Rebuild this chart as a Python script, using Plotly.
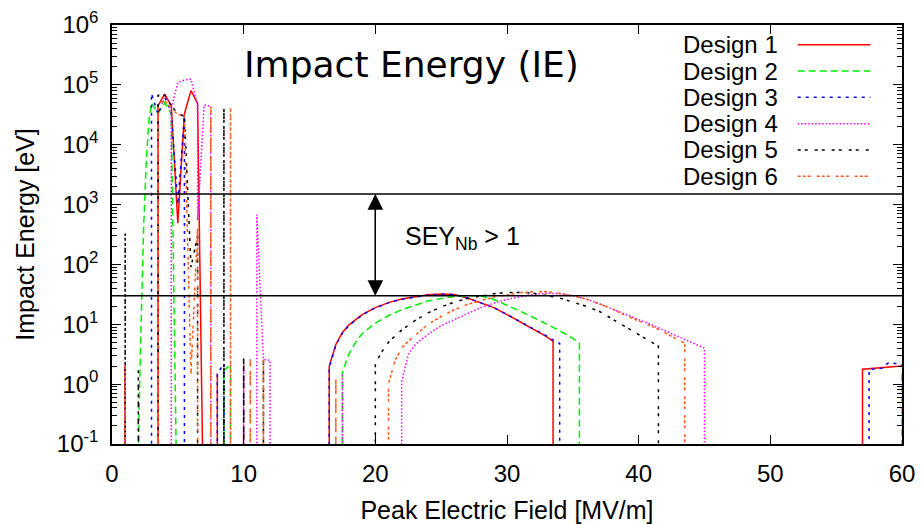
import math
import plotly.graph_objects as go

F = 1e-3  # no multipacting: impact energy below the plotted range

# ---- Design 1 ----
d1_field = [1.0, 1.0, 1.0, 3.5, 3.5, 4.0, 4.5, 5.0, 5.5, 6.0, 6.5, 7.0,
            8.0, 8.0, 8.0,
            16.5, 16.5, 17.0, 17.5, 18.0, 19.0, 20.0, 21.0, 22.0, 23.0, 24.0, 25.0, 26.0,
            27.0, 28.0, 29.0, 30.0, 31.0, 32.0, 33.0, 33.5, 33.5,
            57.0, 57.0, 60.0]
d1_ie = [F, 2.1, F, F, 4.5e4, 7.0e4, 4.5e4, 490, 3.3e4, 8.0e4, 4.9e4, F,
         F, 1.5, F,
         F, 2.0, 4.6, 7.3, 9.8, 14.5, 19.0, 23.0, 26.5, 29.0, 31.0, 32.0, 31.5,
         27.5, 23.0, 19.0, 14.5, 11.0, 8.3, 6.2, 5.2, F,
         F, 1.78, 2.0]

# ---- Design 2 ----
d2_field = [2.0, 2.05, 2.15, 2.25, 2.4, 2.6, 2.8, 3.0, 3.5, 4.0, 4.5, 5.0,
            8.5, 8.5, 9.0, 9.0,
            17.5, 17.5, 18.0, 18.5, 19.0, 20.0, 21.0, 22.0, 23.0, 24.0, 25.0, 26.0, 27.0, 28.0,
            29.0, 30.0, 31.0, 32.0, 33.0, 34.0, 35.0, 35.5, 35.5,
            60.0, 60.0]
d2_ie = [F, 0.3, 3.0, 30.0, 400, 5000, 2.5e4, 5.0e4, 3.3e4, 5.0e4, 3.3e4, F,
         F, 1.7, 2.1, F,
         F, 1.6, 3.2, 5.0, 7.0, 10.5, 14.0, 17.5, 21.0, 24.5, 27.0, 29.0, 30.0, 30.0,
         26.0, 21.0, 16.5, 13.0, 10.0, 7.8, 5.8, 4.8, F,
         F, 1.7]

# ---- Design 3 ----
d3_field = [3.0, 3.0, 3.5, 4.0, 4.5, 5.0, 5.5, 5.5,
            8.0, 8.0, 8.5, 8.5,
            16.5, 16.5, 17.0, 17.5, 18.0, 19.0, 20.0, 21.0, 22.0, 23.0, 24.0, 25.0, 26.0,
            27.0, 28.0, 29.0, 30.0, 31.0, 32.0, 33.0, 33.5, 34.0, 34.0,
            57.5, 57.5, 58.5, 59.0, 59.5, 60.0]
d3_ie = [F, 7.2e4, 3.2e4, 6.3e4, 3.5e4, 1000, 3.0e4, F,
         F, 1.5, 2.2, F,
         F, 1.9, 4.5, 7.1, 9.6, 14.3, 18.8, 22.8, 26.3, 28.8, 30.8, 31.8, 31.3,
         27.5, 23.0, 19.0, 14.6, 11.2, 8.5, 6.4, 5.5, 4.8, F,
         F, 1.75, 1.85, 2.3, 2.2, 2.1]

# ---- Design 4 ----
d4_field = [1.0, 1.0, 1.0, 4.5, 4.5, 5.0, 5.5, 6.0, 6.5, 6.5, 7.0, 7.5, 7.5,
            10.0, 10.0, 10.0, 11.0, 11.0, 11.5, 12.0, 12.0,
            17.5, 17.5, 17.5,
            22.0, 22.0, 22.5, 23.0, 23.5, 24.0, 25.0, 26.0, 27.0, 28.0, 29.0, 30.0, 31.0, 32.0,
            33.0, 34.0, 35.0, 36.0, 37.0, 38.0, 39.0, 40.0, 41.0, 42.0, 43.0, 44.0, 45.0, 45.0]
d4_ie = [F, 2.1, F, F, 4.0e4, 1.1e5, 1.2e5, 1.25e5, 4.5e4, 550, 4.6e4, 4.4e4, F,
         F, 2.0, F, F, 680, 2.6, 2.5, F,
         F, 1.5, F,
         F, 1.1, 3.1, 4.5, 5.6, 6.8, 9.5, 12.0, 15.5, 19.0, 22.5, 26.0, 29.0, 31.5,
         33.0, 32.5, 30.0, 26.5, 22.0, 18.0, 14.5, 12.0, 9.8, 7.8, 6.2, 5.0, 4.0, F]

# ---- Design 5 ----
d5_field = [1.0, 1.0, 1.0, 2.0, 2.0, 2.0, 3.5, 3.5, 4.0, 4.5, 5.0, 5.5, 6.0, 6.5, 6.5,
            8.5, 8.5, 8.5, 10.0, 10.0, 10.0, 11.5, 11.5, 11.5,
            20.0, 20.0, 20.5, 21.0, 21.5, 22.0, 23.0, 24.0, 25.0, 26.0, 27.0, 28.0, 29.0, 30.0,
            31.0, 32.0, 33.0, 34.0, 35.0, 36.0, 37.0, 38.0, 39.0, 40.0, 41.0, 41.5, 41.5]
d5_ie = [F, 330, F, F, 1.7, F, F, 6.7e4, 6.7e4, 4.5e4, 3.3e4, 3.0e4, 90, 300, F,
         F, 4.2e4, F, F, 2.9, F, F, 2.6, F,
         F, 2.2, 3.5, 5.0, 6.4, 8.0, 11.5, 15.5, 19.5, 23.5, 27.0, 30.0, 32.5, 34.0,
         34.0, 33.0, 30.5, 27.5, 23.5, 20.0, 16.5, 12.3, 9.3, 6.9, 5.0, 4.3, F]

# ---- Design 6 ----
d6_field = [1.0, 1.0, 1.0, 3.5, 3.5, 4.0, 4.5, 5.0, 5.5, 6.0, 6.5, 6.5,
            7.5, 7.5, 7.5, 9.0, 9.0, 9.0, 10.5, 10.5, 10.5, 11.5, 11.5, 11.5,
            17.0, 17.0, 17.0,
            21.0, 21.0, 21.5, 22.0, 22.5, 23.0, 24.0, 25.0, 26.0, 27.0, 28.0, 29.0, 30.0, 31.0,
            32.0, 33.0, 34.0, 35.0, 36.0, 37.0, 38.0, 39.0, 40.0, 41.0, 42.0, 43.0, 43.5, 43.5]
d6_ie = [F, 2.1, F, F, 4.5e4, 5.5e4, 4.0e4, 3.2e4, 3.0e4, 1.5, 430, F,
         F, 4.3e4, F, F, 4.2e4, F, F, 2.6, F, F, 2.6, F,
         F, 1.3, F,
         F, 1.0, 2.5, 4.0, 5.2, 6.5, 10.0, 13.5, 17.5, 21.5, 25.0, 28.5, 31.0, 33.5,
         35.0, 35.0, 33.0, 30.0, 26.5, 22.0, 18.0, 14.0, 11.5, 9.3, 7.2, 5.5, 4.8, F]

design_names = ["Design 1", "Design 2", "Design 3", "Design 4", "Design 5", "Design 6"]
design_fields = [d1_field, d2_field, d3_field, d4_field, d5_field, d6_field]
design_ies = [d1_ie, d2_ie, d3_ie, d4_ie, d5_ie, d6_ie]
design_colors = ["#ff0000", "#00ee00", "#0000ff", "#ff00ff", "#000000", "#ff5a1f"]
design_dashes = ["solid", "7px,4px", "3px,5px", "1.5px,2px", "3px,4px,3px,7px", "3px,2px,3px,2px,3px,6px"]

# SEY of niobium exceeds one between these impact energies [eV]
sey_low = 30.0
sey_high = 1500.0
arrow_field = 20.0

x_ticks = [0, 10, 20, 30, 40, 50, 60]
y_ticks = [1e-1, 1e0, 1e1, 1e2, 1e3, 1e4, 1e5, 1e6]
y_ticktext = ["10<sup>-1</sup>", "10<sup>0</sup>", "10<sup>1</sup>", "10<sup>2</sup>",
              "10<sup>3</sup>", "10<sup>4</sup>", "10<sup>5</sup>", "10<sup>6</sup>"]

FONT = "Liberation Sans, Arial, sans-serif"

fig = go.Figure()
for name, xs, ys, col, dash in zip(design_names, design_fields, design_ies, design_colors, design_dashes):
    fig.add_trace(go.Scatter(x=xs, y=ys, mode="lines", name=name,
                             line=dict(color=col, width=1.5, dash=dash),
                             showlegend=False))

# SEY > 1 band limits
for level in (sey_low, sey_high):
    fig.add_shape(type="line", xref="paper", yref="y", x0=0, x1=1, y0=level, y1=level,
                  line=dict(color="black", width=1.5))

# double-headed arrow spanning the band
for tip, tail in ((sey_high, sey_low), (sey_low, sey_high)):
    fig.add_annotation(x=arrow_field, y=math.log10(tip), ax=arrow_field, ay=math.log10(tail),
                       xref="x", yref="y", axref="x", ayref="y", text="",
                       showarrow=True, arrowhead=2, arrowsize=2.4, arrowwidth=1.3,
                       arrowcolor="black", standoff=0, startstandoff=0)

fig.add_annotation(x=0.368, y=0.492, xref="paper", yref="paper", xanchor="left", yanchor="middle",
                   text="SEY<sub>Nb</sub> > 1", showarrow=False,
                   font=dict(family=FONT, size=25, color="black"))

fig.add_annotation(x=0.379, y=0.905, xref="paper", yref="paper", xanchor="center", yanchor="middle",
                   text="Impact Energy (IE)", showarrow=False,
                   font=dict(family="DejaVu Sans, sans-serif", size=36, color="black"))

# key: label on the left, line sample on the right
key_top = 0.953
key_step = 0.0628
for i, (name, col, dash) in enumerate(zip(design_names, design_colors, design_dashes)):
    yk = key_top - i * key_step
    fig.add_annotation(x=0.8456, y=yk, xref="paper", yref="paper", xanchor="right", yanchor="middle",
                       text=name, showarrow=False, font=dict(family=FONT, size=24, color="black"))
    fig.add_shape(type="line", xref="paper", yref="paper", x0=0.868, x1=0.96, y0=yk, y1=yk,
                  line=dict(color=col, width=1.5, dash=dash))

fig.update_xaxes(range=[0, 60], tickvals=x_ticks, ticks="inside", ticklen=9, tickwidth=1.3,
                 tickcolor="black", showline=True, linecolor="black", linewidth=1.5, mirror="ticks",
                 showgrid=False, zeroline=False, ticklabelstandoff=7, automargin=False,
                 tickfont=dict(family=FONT, size=24, color="black"),
                 title=dict(text="Peak Electric Field [MV/m]", standoff=16,
                            font=dict(family=FONT, size=25, color="black")))
fig.update_yaxes(type="log", range=[-1, 6], tickvals=y_ticks, ticktext=y_ticktext,
                 ticks="inside", ticklen=9, tickwidth=1.3, tickcolor="black",
                 showline=True, linecolor="black", linewidth=1.5, mirror="ticks",
                 showgrid=False, zeroline=False, ticklabelstandoff=7, automargin=False,
                 minor=dict(ticks="inside", ticklen=5, tickcolor="black", dtick="D1", showgrid=False),
                 tickfont=dict(family=FONT, size=24, color="black"),
                 title=dict(text="Impact Energy [eV]", standoff=15,
                            font=dict(family=FONT, size=25, color="black")))

fig.update_layout(width=921, height=524, margin=dict(l=112, r=19, t=25, b=80),
                  plot_bgcolor="white", paper_bgcolor="white")

fig.write_html("out.html")
